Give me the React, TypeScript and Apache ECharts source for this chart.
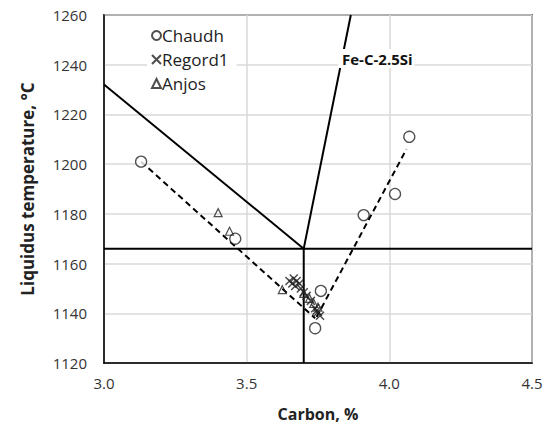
import React, { useEffect, useRef } from "react";
import * as echarts from "echarts";

const chaudh: [number, number][] = [
  [3.13, 1201], [3.46, 1170], [3.76, 1149], [3.74, 1134], [3.91, 1179.5], [4.02, 1188], [4.07, 1211],
];
const regord1: [number, number][] = [
  [3.65, 1153], [3.66, 1152], [3.665, 1154], [3.675, 1153], [3.67, 1151], [3.685, 1152], [3.69, 1150],
  [3.70, 1148.5], [3.71, 1147], [3.725, 1145], [3.74, 1142], [3.75, 1140.5], [3.757, 1139], [3.745, 1141],
];
const anjos: [number, number][] = [
  [3.40, 1180.5], [3.44, 1173], [3.625, 1149.5], [3.70, 1148], [3.72, 1146], [3.735, 1144], [3.75, 1142.5],
];
const liquidusLeft: [number, number][] = [[3.0, 1232], [3.70, 1166]];
const liquidusRight: [number, number][] = [[3.70, 1166], [3.865, 1260]];
const eutecticH: [number, number][] = [[3.0, 1166], [4.5, 1166]];
const eutecticV: [number, number][] = [[3.70, 1120], [3.70, 1166]];
const fitLeft: [number, number][] = [[3.13, 1201], [3.74, 1138]];
const fitRight: [number, number][] = [[3.745, 1138.5], [4.06, 1206]];
const xTicks = { min: 3.0, max: 4.5, interval: 0.5 };
const yTicks = { min: 1120, max: 1260, interval: 20 };

const FONT = "'Open Sans', sans-serif";
const crossPath = "path://M0,0L10,10M10,0L0,10";

export default function App() {
  const ref = useRef<HTMLDivElement>(null);
  useEffect(() => {
    if (!ref.current) return;
    const chart = echarts.init(ref.current, undefined, { renderer: "svg" });
    const solid = (name: string, data: [number, number][]) => ({
      name, type: "line", data, symbol: "none", silent: true,
      lineStyle: { color: "#000", width: 2, type: "solid" }, z: 2,
    });
    const dashed = (name: string, data: [number, number][]) => ({
      name, type: "line", data, symbol: "none", silent: true,
      lineStyle: { color: "#000", width: 2, type: [6, 4] }, z: 2,
    });
    chart.setOption({
      animation: false,
      textStyle: { fontFamily: FONT },
      grid: { left: 104, right: 15, top: 15, bottom: 65, show: true, borderColor: "#000", borderWidth: 1.5, backgroundColor: "transparent" },
      xAxis: {
        type: "value", min: xTicks.min, max: xTicks.max, interval: xTicks.interval,
        name: "Carbon, %", nameLocation: "middle", nameGap: 43,
        nameTextStyle: { fontFamily: FONT, fontWeight: "bold", fontSize: 16, color: "#222" },
        axisLine: { show: true, lineStyle: { color: "#000", width: 1.5 } },
        axisTick: { show: false },
        axisLabel: { formatter: (v: number) => v.toFixed(1), fontFamily: FONT, fontSize: 15, color: "#333", margin: 12 },
        splitLine: { show: true, lineStyle: { color: "#d9d9d9", width: 1.5 } },
      },
      yAxis: {
        type: "value", min: yTicks.min, max: yTicks.max, interval: yTicks.interval,
        name: "Liquidus temperature, °C", nameLocation: "middle", nameGap: 68,
        nameTextStyle: { fontFamily: FONT, fontWeight: "bold", fontSize: 17, color: "#222" },
        axisLine: { show: true, lineStyle: { color: "#000", width: 1.5 } },
        axisTick: { show: false },
        axisLabel: { formatter: (v: number) => String(v), fontFamily: FONT, fontSize: 15, color: "#333", margin: 17 },
        splitLine: { show: true, lineStyle: { color: "#d9d9d9", width: 1.5 } },
      },
      legend: {
        data: ["Chaudh", "Regord1", "Anjos"], orient: "vertical", left: 147, top: 23,
        itemWidth: 9, itemHeight: 9, itemGap: 7, backgroundColor: "#fff", padding: [4, 8, 4, 4],
        textStyle: { fontFamily: FONT, fontSize: 17, color: "#222", padding: [0, 0, 0, -4] },
      },
      graphic: [
        {
          type: "text", left: 338, top: 49, z: 10,
          style: {
            text: "Fe-C-2.5Si", fontFamily: FONT, fontSize: 15, fontWeight: "bold", fill: "#111",
            backgroundColor: "#fff", padding: [2, 2, 2, 4],
          },
        },
      ],
      series: [
        solid("l1", liquidusLeft), solid("l2", liquidusRight), solid("l3", eutecticH), solid("l4", eutecticV),
        dashed("d1", fitLeft), dashed("d2", fitRight),
        {
          name: "Chaudh", type: "scatter", data: chaudh, symbol: "circle", symbolSize: 11, z: 4,
          itemStyle: { color: "#fff", borderColor: "#222", borderWidth: 1.3 },
        },
        {
          name: "Regord1", type: "scatter", data: regord1, symbol: crossPath, symbolSize: 8, z: 5,
          itemStyle: { color: "transparent", borderColor: "#222", borderWidth: 1.5 },
        },
        {
          name: "Anjos", type: "scatter", data: anjos, symbol: "triangle", symbolSize: 8, z: 5,
          itemStyle: { color: "transparent", borderColor: "#222", borderWidth: 1.2 },
        },
      ],
    });
    return () => chart.dispose();
  }, []);
  return <div ref={ref} style={{ width: 547, height: 428, position: "absolute", left: 0, top: 0 }} />;
}
